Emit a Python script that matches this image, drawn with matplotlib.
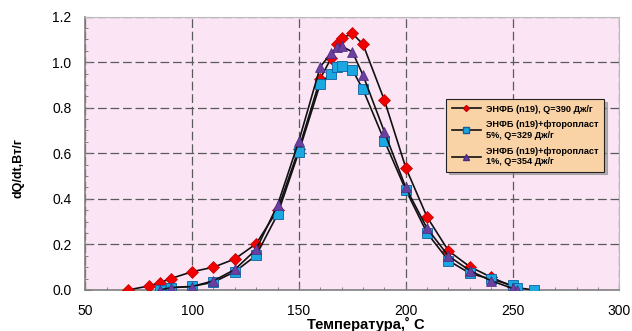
import matplotlib
matplotlib.use("Agg")
import matplotlib.pyplot as plt
from matplotlib.ticker import MultipleLocator, FormatStrFormatter

plt.rcParams['font.family'] = ['Liberation Sans', 'DejaVu Sans']

# Data
t_red = [70, 80, 85, 90, 100, 110, 120, 130, 140, 150, 160, 165, 168, 170, 175, 180,
         190, 200, 210, 220, 230, 240, 250]
q_red = [0.0, 0.018, 0.032, 0.05, 0.08, 0.10, 0.136, 0.203, 0.351, 0.62, 0.928, 1.016,
         1.078, 1.104, 1.126, 1.078, 0.833, 0.537, 0.32, 0.172, 0.102, 0.056, 0.015]

t_blue = [85, 90, 100, 110, 120, 130, 140, 150, 160, 165, 168, 170, 175, 180, 190, 200,
          210, 220, 230, 240, 250, 252, 260]
q_blue = [0.0, 0.01, 0.016, 0.034, 0.08, 0.152, 0.332, 0.607, 0.906, 0.95, 0.98, 0.982,
          0.966, 0.88, 0.655, 0.439, 0.25, 0.129, 0.073, 0.047, 0.02, 0.01, 0.0]

t_purple = [85, 90, 100, 110, 120, 130, 140, 150, 160, 165, 168, 170, 175, 180, 190, 200,
            210, 220, 230, 240, 250, 252]
q_purple = [0.0, 0.01, 0.015, 0.04, 0.09, 0.178, 0.373, 0.655, 0.98, 1.038, 1.068, 1.07,
            1.045, 0.943, 0.694, 0.45, 0.27, 0.149, 0.085, 0.04, 0.007, 0.0]

labels = ["ЭНФБ (n19), Q=390 Дж/г",
          "ЭНФБ (n19)+фторопласт\n5%, Q=329 Дж/г",
          "ЭНФБ (n19)+фторопласт\n1%, Q=354 Дж/г"]

fig = plt.figure(figsize=(6.32, 3.31), dpi=100)
ax = fig.add_axes([0.135, 0.124, 0.845, 0.826])
ax.set_facecolor('#FBE5F5')

ax.plot(t_red, q_red, color='#111111', lw=1.2, marker='D', ms=6,
        mfc='#F00000', mec='#C00000', mew=0.5, zorder=3)
ax.plot(t_blue, q_blue, color='#111111', lw=1.2, marker='s', ms=6.5,
        mfc='#1BA8E0', mec='#1060A0', mew=0.6, zorder=3)
ax.plot(t_purple, q_purple, color='#111111', lw=1.2, marker='^', ms=7.5,
        mfc='#6B3FA0', mec='#4A2A80', mew=0.5, zorder=4)

ax.set_xlim(50, 300)
ax.set_ylim(0, 1.2)
ax.xaxis.set_major_locator(MultipleLocator(50))
ax.xaxis.set_minor_locator(MultipleLocator(10))
ax.yaxis.set_major_locator(MultipleLocator(0.2))
ax.yaxis.set_minor_locator(MultipleLocator(0.05))
ax.yaxis.set_major_formatter(FormatStrFormatter('%.1f'))

ax.grid(True, which='major', color='#5A5A5A', linestyle=(0, (7, 3)), lw=0.9)
ax.set_axisbelow(True)

for s in ['left', 'bottom']:
    ax.spines[s].set_color('#808080')
    ax.spines[s].set_linewidth(1.2)
for s in ['top', 'right']:
    ax.spines[s].set_color('#BBBBBB')
    ax.spines[s].set_linewidth(0.8)

ax.tick_params(which='major', direction='in', length=4, color='#707070',
               labelsize=10, pad=10)
ax.tick_params(which='minor', direction='in', length=2.5, color='#707070')
ax.tick_params(axis='both', which='both', top=False, right=False)

ax.set_xlabel("Температура,˚ С", fontsize=10.6, fontweight='bold')
ax.xaxis.set_label_coords(0.525, -0.097)
ax.set_ylabel("dQ/dt,Вт/г", fontsize=9, fontweight='bold')
ax.yaxis.set_label_coords(-0.113, 0.446)

h1, = ax.plot([], [], color='#111111', lw=1.2, marker='D', ms=3,
              mfc='#F00000', mec='#C00000')
h2, = ax.plot([], [], color='#111111', lw=1.2, marker='s', ms=4,
              mfc='#1BA8E0', mec='#1060A0')
h3, = ax.plot([], [], color='#111111', lw=1.2, marker='^', ms=4,
              mfc='#6B3FA0', mec='#4A2A80')
leg = ax.legend([h1, h2, h3], labels, loc='upper left',
                bbox_to_anchor=(0.667, 0.715),
                prop={'weight': 'bold', 'size': 6.6},
                frameon=True, fancybox=False, shadow={'color': '#888888', 'alpha': 0.6},
                handlelength=3.2, handletextpad=0.6, labelspacing=0.75,
                borderpad=0.6)
leg.get_frame().set_facecolor('#F9D2A6')
leg.get_frame().set_edgecolor('#222222')
leg.get_frame().set_linewidth(0.8)
leg.get_frame().set_alpha(1)

fig.savefig('out.png', dpi=100)
